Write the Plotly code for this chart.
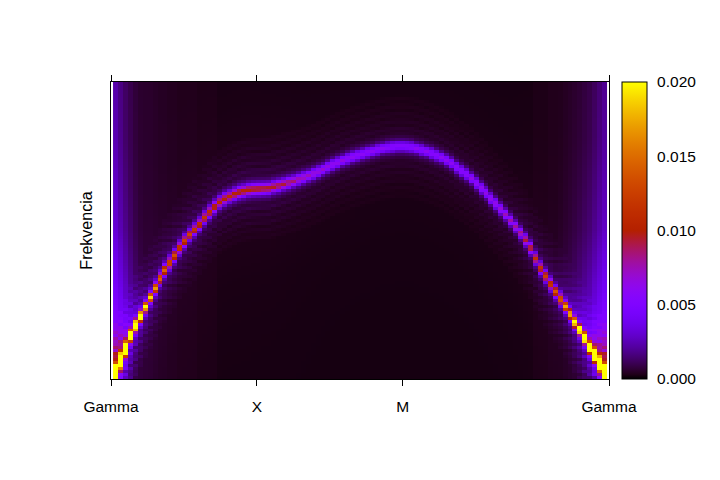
import numpy as np
import plotly.graph_objects as go

# One value per column of the map
ridge_frequency = [
 .020,.060,.100,.145,.180,.212,.243,.275,.306,.338,
 .366,.390,.414,.440,.463,.485,.503,.522,.544,.563,
 .580,.596,.607,.615,.623,.629,.633,.637,.639,.640,
 .641,.642,.647,.651,.656,.661,.666,.672,.678,.684,
 .691,.698,.705,.713,.721,.728,.735,.741,.747,.752,
 .757,.762,.766,.771,.775,.778,.780,.782,.782,.781,
 .779,.775,.770,.765,.759,.752,.745,.736,.726,.712,
 .700,.689,.675,.659,.642,.627,.608,.591,.573,.555,
 .535,.514,.492,.467,.440,.405,.373,.346,.319,.294,
 .269,.245,.219,.192,.165,.137,.105,.080,.050,.020]
ridge_intensity = [
 .080,.070,.055,.042,.034,.027,.021,.0185,.017,.0155,
 .0145,.0140,.0135,.0130,.0128,.0125,.0122,.0120,.0118,.0115,
 .0112,.0110,.0108,.0108,.0108,.0108,.0108,.0108,.0105,.0105,
 .0102,.0102,.0100,.0097,.0094,.0090,.0086,.0080,.0077,.0074,
 .0072,.0070,.0068,.0067,.0066,.0065,.0064,.0063,.0062,.0061,
 .0060,.0060,.0059,.0059,.0058,.0058,.0058,.0057,.0057,.0057,
 .0057,.0058,.0058,.0058,.0059,.0059,.0059,.0060,.0060,.0061,
 .0061,.0062,.0063,.0064,.0065,.0066,.0067,.0069,.0070,.0072,
 .0075,.0080,.0088,.0098,.0105,.0112,.0120,.0125,.0130,.0140,
 .0150,.0170,.0190,.0220,.0260,.0300,.0360,.0480,.0650,.0800]
background = [
 .0020,.0014,.0010,.0008,.0006,.0005,.0005,.0005,.00045,.0004,
 .0004,.00035,.00035,.0003,.0003,.0003,.0003,.00025,.00025,.00025,
 .00025,.0002,.0002,.0002,.0002,.0002,.0002,.0002,.0002,.0002,
 .0002,.0002,.0002,.0002,.0002,.0002,.0002,.0002,.0002,.0002,
 .0002,.0002,.0002,.0002,.0002,.0002,.0002,.0002,.0002,.0002,
 .0002,.0002,.0002,.0002,.0002,.0002,.0002,.0002,.0002,.0002,
 .0002,.0002,.0002,.0002,.0002,.0002,.0002,.0002,.0002,.0002,
 .0002,.0002,.0002,.0002,.0002,.0002,.0002,.0002,.0002,.0002,
 .0002,.0002,.0002,.0002,.0002,.00025,.00025,.00025,.0003,.0003,
 .0003,.00035,.0004,.00045,.0005,.0006,.0007,.0009,.0012,.0016]
# Extra violet glow above the ridge next to the Gamma walls, one value per column
wall_glow = [
 .0030,.0028,.0022,.0013,.0007,.0003,0,0,0,0,
 0,0,0,0,0,0,0,0,0,0,
 0,0,0,0,0,0,0,0,0,0,
 0,0,0,0,0,0,0,0,0,0,
 0,0,0,0,0,0,0,0,0,0,
 0,0,0,0,0,0,0,0,0,0,
 0,0,0,0,0,0,0,0,0,0,
 0,0,0,0,0,0,0,0,0,0,
 0,0,0,0,0,0,0,0,0,0,
 .0003,.0005,.0007,.0010,.0014,.0018,.0022,.0027,.0030,.0032]
glow_frequency = [0, .15, .30, .50, .80, 1]
glow_share = [1, 1, .65, .30, .10, .07]
# Falloff away from the ridge, read from cross-sections (rows from the ridge -> share of peak)
falloff_rows = [0, 1, 1.5, 2, 3, 4, 5, 6.2, 7.5, 8.7, 10, 11.2, 12.5, 13.7, 15, 16.2, 17.5, 20, 30, 50, 100]
falloff_share = [1, .70, .50, .28, .13, .08, .04, .07, .025, .05, .018, .04, .012, .028, .010, .020, .008, .008, .005, .003, .0012]
x_tick_positions = [0, 1, 2, 3.414]
x_tick_labels = ["Gamma", "X", "M", "Gamma"]
colorbar_ticks = [0.005, 0.010, 0.015]

N_ROWS = 100
ZMAX = 0.02
ridge = np.array(ridge_frequency)
peak = np.array(ridge_intensity)
bg = np.array(background)
glow = np.array(wall_glow)
row_freq = (np.arange(N_ROWS) + 0.5) / N_ROWS
z = np.zeros((N_ROWS, ridge.size))
for col in range(ridge.size):
    dist = np.abs(row_freq * N_ROWS - ridge[col] * N_ROWS)
    z[:, col] = bg[col] + peak[col] * np.interp(dist, falloff_rows, falloff_share)
    z[:, col] += glow[col] * np.interp(row_freq, glow_frequency, glow_share) * (row_freq > ridge[col])

# gnuplot default palette (rgbformulae 7,5,15)
stops = []
for t in np.linspace(0, 1, 65):
    r = np.sqrt(t); g = t ** 3; b = max(np.sin(2 * np.pi * t), 0)
    stops.append([float(t), f"rgb({r*255:.0f},{g*255:.0f},{b*255:.0f})"])

FONT = dict(family="Liberation Sans, Arial, sans-serif", size=15.5, color="black")
fig = go.Figure(go.Heatmap(
    z=z, x0=0.0309, dx=0.03387, y0=0.5 / N_ROWS, dy=1 / N_ROWS,
    zmin=0, zmax=ZMAX, zsmooth=False, colorscale=stops, hoverinfo="skip",
    colorbar=dict(
        x=1.026, xanchor="left", xref="paper", y=0.5, yanchor="middle", len=1, lenmode="fraction",
        thickness=25, thicknessmode="pixels", outlinewidth=1, outlinecolor="black", borderwidth=0,
        tick0=0, dtick=0.005, tickformat=".3f", ticks="outside", ticklen=7,
        tickcolor="rgba(0,0,0,0)", tickwidth=1, tickfont=FONT, xpad=0, ypad=0,
    ),
))
# gnuplot draws the colour box ticks inward from both sides
for v in colorbar_ticks:
    for x0, x1 in ((1.0261, 1.0341), (1.0763, 1.0683)):
        fig.add_shape(type="line", xref="paper", yref="paper", x0=x0, x1=x1,
                      y0=v / ZMAX, y1=v / ZMAX, line=dict(color="black", width=1), layer="above")
fig.update_layout(
    width=720, height=480, autosize=False, paper_bgcolor="white", plot_bgcolor="white",
    margin=dict(l=103, r=119, t=74, b=109), font=FONT,
    xaxis=dict(range=[0, 3.414], tickvals=x_tick_positions, ticktext=x_tick_labels,
               ticks="outside", ticklen=6, tickcolor="black", tickwidth=1,
               showline=True, linecolor="black", linewidth=1, mirror="allticks",
               showgrid=False, zeroline=False, ticklabelstandoff=7, tickfont=FONT),
    yaxis=dict(range=[0, 1], showticklabels=False, ticks="", showline=True, linecolor="black",
               linewidth=1, mirror=True, showgrid=False, zeroline=False,
               title=dict(text="Frekvencia", font=dict(size=16), standoff=13)),
)
fig.write_html("out.html")
